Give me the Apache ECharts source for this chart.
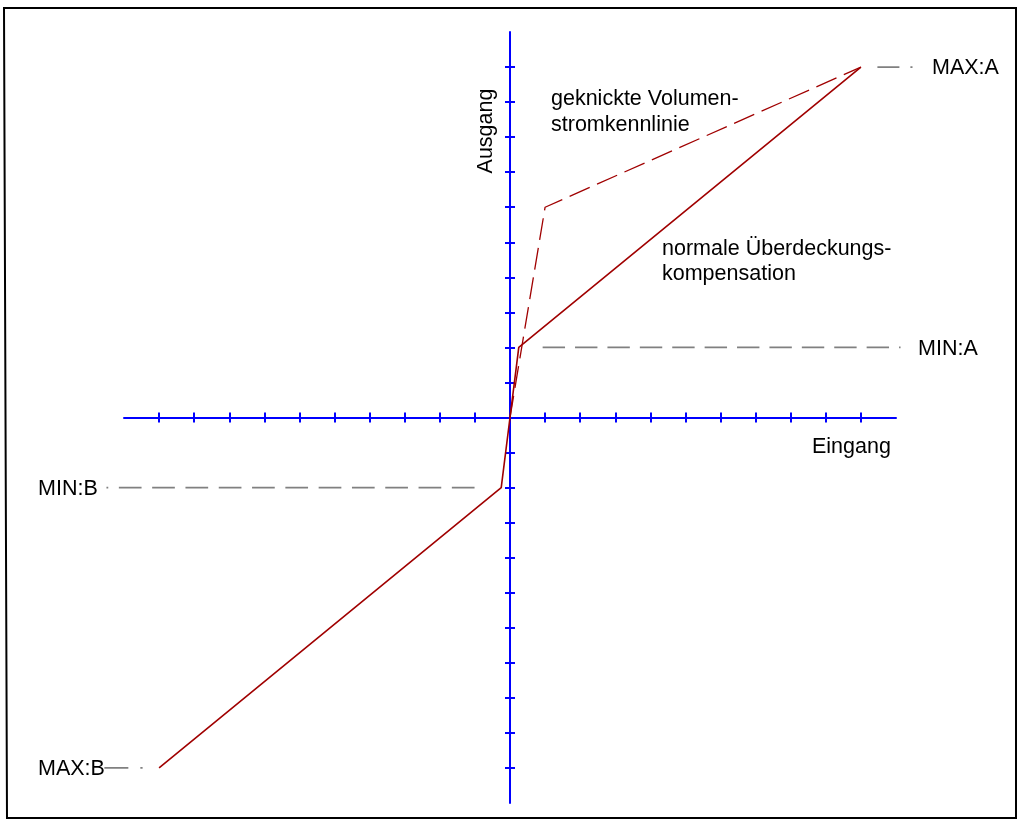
<!DOCTYPE html>
<html>
<head>
<meta charset="utf-8">
<script src="https://cdn.jsdelivr.net/npm/echarts@6/dist/echarts.min.js"></script>
<style>
  html, body { margin: 0; padding: 0; background: #ffffff; }
  #chart { width: 1018px; height: 820px; }
</style>
</head>
<body>
<div id="chart"></div>
<script>
// Axis range and tick positions (both axes are symmetric, one unit per tick)
const axisMin = -11;
const axisMax = 11;
const tickValues = [-10, -9, -8, -7, -6, -5, -4, -3, -2, -1, 0, 1, 2, 3, 4, 5, 6, 7, 8, 9, 10];

// Normal overlap compensation: steep through the dead band, then linear to the limits
const normalCurve = [[-10, -10], [-0.25, -2], [0, 0], [0.25, 2], [10, 10]];
// Kinked volume-flow characteristic (positive side only)
const kinkedCurve = [[0, 0], [1, 6], [10, 10]];

// Guide lines leading to the limit labels (they run past the axis ends)
const guideMinA = [[0.93, 2], [11.13, 2]];
const guideMinB = [[-1.01, -2], [-11.5, -2]];
const guideMaxA = [[10.47, 10], [11.47, 10]];
const guideMaxB = [[-11.56, -10], [-10.47, -10]];

const blue = '#0000ff';
const red = '#a00000';
const grey = '#808080';
const font = '"Liberation Sans", Arial, sans-serif';
const fs = 21.5;

function axisPair(dim) {
  const base = {
    type: 'value', min: axisMin, max: axisMax, interval: 1,
    splitLine: { show: false },
    axisLabel: { show: false },
    axisPointer: { show: false }
  };
  const pos = dim === 'x' ? 'bottom' : 'left';
  return [
    Object.assign({}, base, {
      position: pos,
      axisLine: { show: true, onZero: true, lineStyle: { color: blue, width: 2 } },
      axisTick: { show: true, inside: false, length: 5, customValues: tickValues,
                  lineStyle: { color: blue, width: 2 } }
    }),
    Object.assign({}, base, {
      position: pos,
      axisLine: { show: false, onZero: true },
      axisTick: { show: true, inside: true, length: 5, customValues: tickValues,
                  lineStyle: { color: blue, width: 2 } }
    })
  ];
}

function label(text, x, y, extra) {
  return Object.assign({
    type: 'text', x: x, y: y, silent: true,
    style: { text: text, font: fs + 'px ' + font, fill: '#000000',
             textAlign: 'left', textVerticalAlign: 'middle' }
  }, extra || {});
}

const chart = echarts.init(document.getElementById('chart'), null, { renderer: 'canvas' });
chart.setOption({
  animation: false,
  backgroundColor: '#ffffff',
  grid: { left: 124, right: 122, top: 32, bottom: 17, containLabel: false },
  xAxis: axisPair('x'),
  yAxis: axisPair('y'),
  series: [
    {
      name: 'normale Überdeckungskompensation', type: 'line', data: normalCurve,
      showSymbol: false, symbol: 'none', clip: false, z: 3,
      lineStyle: { color: red, width: 1.6 }
    },
    {
      name: 'geknickte Volumenstromkennlinie', type: 'line', data: kinkedCurve,
      showSymbol: false, symbol: 'none', clip: false, z: 3,
      lineStyle: { color: red, width: 1.3, type: [22, 8] }
    }
  ]
});

// Guide lines are placed through the grid's own scale, extrapolated past the axis ends
function guide(data, dash) {
  const a = chart.convertToPixel({ gridIndex: 0 }, data[0]);
  const b = chart.convertToPixel({ gridIndex: 0 }, data[1]);
  return {
    type: 'line', silent: true, z: 1,
    shape: { x1: a[0], y1: a[1], x2: b[0], y2: b[1] },
    style: { stroke: grey, lineWidth: 1.8, lineDash: dash }
  };
}

chart.setOption({
  graphic: [
    {
      type: 'polygon', silent: true, z: -1,
      shape: { points: [[4, 8], [1016, 8], [1016, 818], [7, 818]] },
      style: { fill: 'none', stroke: '#000000', lineWidth: 2 }
    },
    guide(guideMinA, [22.4, 10]),
    guide(guideMinB, [22.7, 10.6]),
    guide(guideMaxA, [22, 11]),
    guide(guideMaxB, [24, 12]),
    label('geknickte Volumen-', 551, 99.5),
    label('stromkennlinie', 551, 125.5),
    label('normale Überdeckungs-', 662, 249.5),
    label('kompensation', 662, 274.5),
    label('Eingang', 812, 447.5),
    label('MIN:A', 918, 349),
    label('MIN:B', 38, 489),
    label('MAX:A', 932, 68.5),
    label('MAX:B', 38, 769),
    {
      type: 'text', x: 486.5, y: 131, rotation: Math.PI / 2, silent: true,
      style: { text: 'Ausgang', font: fs + 'px ' + font, fill: '#000000',
               textAlign: 'center', textVerticalAlign: 'middle' }
    }
  ]
});
</script>
</body>
</html>
